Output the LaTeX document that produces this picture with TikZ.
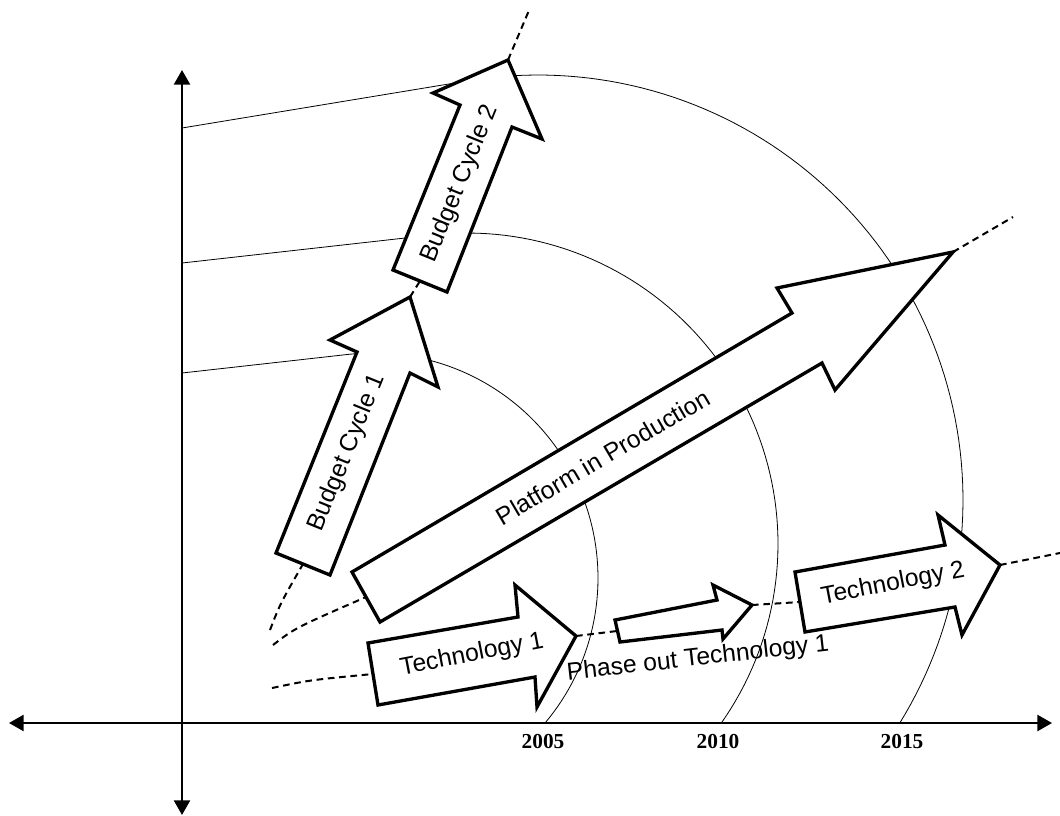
\documentclass[tikz,border=0pt]{standalone}
\usepackage{fontspec}
\setmainfont{Liberation Sans}
\newfontfamily\yearfont{Liberation Serif}
\usetikzlibrary{arrows.meta}
\begin{document}
\begin{tikzpicture}[x=0.75pt,y=-0.75pt,
  axisline/.style={line width=1.8pt,
    {Triangle[length=11pt,width=12pt]}-{Triangle[length=11pt,width=12pt]}},
  yearline/.style={line width=0.6pt},
  guideline/.style={line width=1.5pt, dash pattern=on 5pt off 3.5pt},
  blockarrow/.style={draw, fill=white, line width=2.5pt, line join=miter},
  arrowtext/.style={font=\fontsize{18.5}{20}\selectfont, inner sep=0pt},
  yeartext/.style={font=\yearfont\bfseries\fontsize{16}{18}\selectfont, inner sep=0pt}
]
\useasboundingbox (0,0) rectangle (1060,815);

% year curves: straight run from the vertical axis, then a circular arc down to the time axis
\draw[yearline] (182,373) -- plot[domain=96.4:-40.1, samples=80] ({373+225*cos(\x)},{578-225*sin(\x)});
\draw[yearline] (182,263) -- plot[domain=96.3:-35.2, samples=80] ({467+311*cos(\x)},{544-311*sin(\x)});
\draw[yearline] (182,128) -- plot[domain=99.3:-31.6, samples=90] ({538+425*cos(\x)},{500-425*sin(\x)});

% anchor points of the block arrows
\coordinate (bc1tail) at (303,564);
\coordinate (bc1tip) at (410,297);
\coordinate (bc2tail) at (420,281);
\coordinate (bc2tip) at (508,60);
\coordinate (pptail) at (366,597);
\coordinate (pptip) at (953,252);
\coordinate (t1tail) at (373,674);
\coordinate (t1tip) at (576,636);
\coordinate (potail) at (617,631);
\coordinate (potip) at (752,605);
\coordinate (t2tail) at (800,602);
\coordinate (t2tip) at (1000,565);
\coordinate (gbs) at (270,630);
\coordinate (gbe) at (530,8);
\coordinate (gps) at (273,645);
\coordinate (gpe) at (1013,217);
\coordinate (gts) at (272,688);
\coordinate (gte) at (1060,553);

% dashed guide lines
\draw[guideline] (gbs) .. controls (280,604) .. (bc1tail);
\draw[guideline] (bc1tip) -- (bc2tail);
\draw[guideline] (bc2tip) -- (gbe);
\draw[guideline] (gps) .. controls (295,628) .. (pptail);
\draw[guideline] (pptip) -- (gpe);
\draw[guideline] (gts) .. controls (310,680) .. (t1tail);
\draw[guideline] (t1tip) -- (potail);
\draw[guideline] (potip) -- (t2tail);
\draw[guideline] (t2tip) -- (gte);

% block arrows
\draw[blockarrow] (bc2tip) -- (542,139) -- (512,127) -- (447,292) -- (393,270) -- (460,105) -- (433,93) -- cycle;
\draw[blockarrow] (bc1tip) -- (438,387) -- (410,373) -- (330,575) -- (276,553) -- (357,352) -- (330,340) -- cycle;
\draw[blockarrow] (pptip) -- (835,390) -- (822,363) -- (380,622) -- (352,572) -- (792,313) -- (777,288) -- cycle;
\draw[blockarrow] (t1tip) -- (537,707) -- (535,677) -- (378,705) -- (368,643) -- (518,617) -- (515,585) -- cycle;
\draw[blockarrow] (potip) -- (723,639) -- (722,630) -- (620,642) -- (615,620) -- (717,600) -- (713,585) -- cycle;
\draw[blockarrow] (t2tip) -- (962,635) -- (955,607) -- (805,632) -- (795,572) -- (945,545) -- (938,515) -- cycle;

% arrow captions
\node[arrowtext, rotate=68] (bc2text) at (460,184) {Budget Cycle 2};
\node[arrowtext, rotate=68] (bc1text) at (347,453) {Budget Cycle 1};
\node[arrowtext, rotate=30.4] (pptext) at (603,457) {Platform in Production};
\node[arrowtext, rotate=11] (t1text) at (472,655) {Technology 1};
\node[arrowtext, rotate=11] (t2text) at (893,584) {Technology 2};
\node[arrowtext, rotate=6.5] (potext) at (698,659) {Phase out Technology 1};

% axes
\coordinate (xl) at (9,723);
\coordinate (xr) at (1052,723);
\coordinate (yb) at (182,815);
\coordinate (yt) at (182,70);
\draw[axisline] (xl) -- (xr);
\draw[axisline] (yb) -- (yt);

% year marks
\node[yeartext] (y2005) at (543,741) {2005};
\node[yeartext] (y2010) at (718,741) {2010};
\node[yeartext] (y2015) at (902,741) {2015};
\end{tikzpicture}
\end{document}
